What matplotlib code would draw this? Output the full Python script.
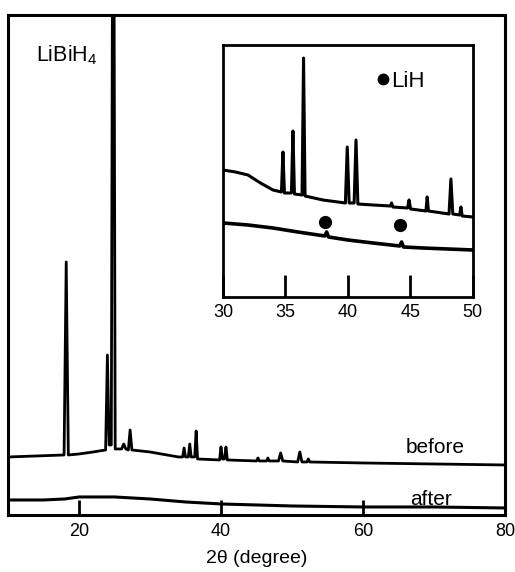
import matplotlib
matplotlib.use("Agg")
import matplotlib.pyplot as plt

plt.rcParams['font.family'] = ['Liberation Sans', 'DejaVu Sans']
plt.rcParams['mathtext.fontset'] = 'custom'
plt.rcParams['mathtext.rm'] = 'Liberation Sans'

# ---- main pattern data (2theta, intensity in arbitrary units) ----
before_x = [10, 14, 17.9, 18.2, 18.5, 20, 22, 23.75, 24.0, 24.25, 24.55, 24.75, 24.9, 25.1,
            26.0, 26.3, 26.6, 26.95, 27.2, 27.45, 30, 34, 34.6, 34.8, 35.0, 35.4, 35.6, 35.8,
            36.3, 36.5, 36.7, 39.8, 40.0, 40.2, 40.5, 40.7, 40.9, 45, 45.2, 45.4, 46.4, 46.6,
            46.8, 48.1, 48.4, 48.7, 50.8, 51.1, 51.4, 52.1, 52.3, 52.5, 60, 70, 80]
before_y = [58, 59, 60, 253, 60, 61, 63, 65, 160, 70, 70, 650, 650, 66,
            66, 71, 66, 65, 85, 65, 63, 58, 58, 67, 58, 58, 71, 58,
            58, 84, 56, 55, 68, 56, 56, 68, 55, 54, 57, 54, 54, 57,
            54, 54, 62, 54, 53, 63, 53, 53, 56, 53, 52, 51, 50]

after_x = [10, 15, 18, 20, 25, 30, 35, 40, 50, 60, 70, 80]
after_y = [15, 15, 16, 18, 18, 16, 13, 11, 9, 8, 8, 7]

# ---- inset data (30-50 degrees) ----
inset_before_x = [30, 31, 32, 33, 34, 34.68, 34.8, 34.92, 35.48, 35.6, 35.72, 36.33, 36.45, 36.57,
                  38, 39.8, 39.95, 40.1, 40.5, 40.65, 40.8, 42, 43.4, 43.5, 43.6, 44.78, 44.9,
                  45.02, 46.25, 46.35, 46.45, 48.1, 48.25, 48.4, 48.95, 49.05, 49.15, 50]
inset_before_y = [127, 125, 122, 114, 107, 105, 145, 104, 104, 166, 103, 102, 239, 101,
                  97, 94, 150, 94, 94, 157, 93, 92, 91, 94, 90, 89, 97,
                  88, 86, 100, 86, 83, 118, 83, 82, 90, 81, 80]

inset_after_x = [30, 32, 34, 36, 38.15, 38.3, 38.45, 40, 42, 44.15, 44.3, 44.45, 46, 48, 50]
inset_after_y = [74, 72, 69, 65, 61, 65, 60, 57, 54, 51, 55, 50, 49, 48, 47]

lih_x = [38.2, 44.2]
lih_y = [75, 72]

main_ticks = [20, 40, 60, 80]
inset_ticks = [30, 35, 40, 45, 50]

fig = plt.figure(figsize=(5.15, 5.72), dpi=100)
ax = fig.add_axes([0.0155, 0.0997, 0.9651, 0.8741])
ax.plot(before_x, before_y, color='black', lw=2.0)
ax.plot(after_x, after_y, color='black', lw=2.2)
ax.set_xlim(10, 80)
ax.set_ylim(0, 500)
ax.set_yticks([])
ax.set_xticks(main_ticks)
ax.tick_params(axis='x', direction='in', length=11, width=2, labelsize=13, pad=6)
for s in ax.spines.values():
    s.set_linewidth(2.2)
ax.set_xlabel('2θ (degree)', fontsize=14, labelpad=7)
ax.text(66, 62, 'before', fontsize=15, ha='left', va='baseline')
ax.text(66.6, 10, 'after', fontsize=15, ha='left', va='baseline')
ax.text(14.0, 454, r'$\mathregular{LiBiH_4}$', fontsize=15.5, ha='left', va='baseline')

ins = fig.add_axes([0.433, 0.4808, 0.485, 0.4405])
ins.plot(inset_before_x, inset_before_y, color='black', lw=2.2)
ins.plot(inset_after_x, inset_after_y, color='black', lw=2.6)
ins.plot(lih_x, lih_y, 'o', color='black', ms=8.5, ls='none')
ins.plot([42.8], [218], 'o', color='black', ms=7.5)
ins.text(43.5, 210, 'LiH', fontsize=16, ha='left', va='baseline')
ins.set_xlim(30, 50)
ins.set_ylim(0, 252)
ins.set_yticks([])
ins.set_xticks(inset_ticks)
ins.tick_params(axis='x', direction='in', length=16, width=2, labelsize=13, pad=5)
for s in ins.spines.values():
    s.set_linewidth(2.0)

fig.savefig('out.png', dpi=100)
